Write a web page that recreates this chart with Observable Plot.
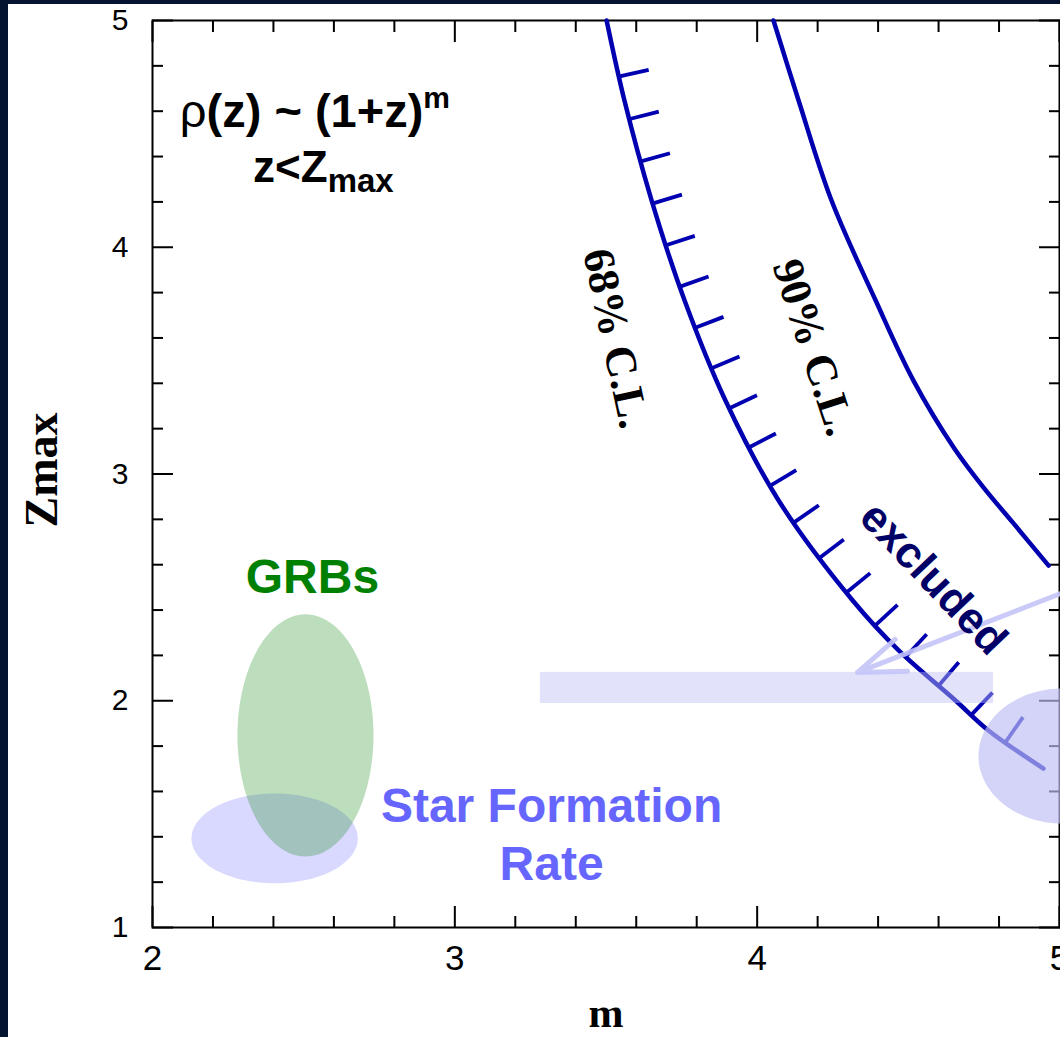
<!DOCTYPE html>
<html>
<head>
<meta charset="utf-8">
<script src="https://cdn.jsdelivr.net/npm/d3@7"></script>
<script src="https://cdn.jsdelivr.net/npm/@observablehq/plot@0.6"></script>
<style>
  html, body { margin: 0; padding: 0; width: 1060px; height: 1037px; overflow: hidden; background: #041430; }
  #panel { position: absolute; left: 8px; top: 4px; width: 1052px; height: 1033px; background: #ffffff; }
  #chart { position: absolute; left: 0; top: 0; }
</style>
</head>
<body>
<div id="panel"></div>
<div id="chart"></div>
<script>
// ---------- data ----------
// 68% C.L. exclusion contour (m, Zmax)
const cl68M = [3.502, 3.561, 3.651, 3.760, 3.895, 4.071, 4.316, 4.468, 4.656, 4.765, 4.947];
const cl68Z = [5.000, 4.647, 4.206, 3.765, 3.324, 2.883, 2.442, 2.222, 2.001, 1.869, 1.701];
// 90% C.L. exclusion contour
const cl90M = [4.054, 4.137, 4.246, 4.392, 4.517, 4.650, 4.749, 4.848, 4.964];
const cl90Z = [5.000, 4.647, 4.206, 3.765, 3.412, 3.117, 2.940, 2.782, 2.596];

// shaded regions: centre (m, z) and half-widths (m, z)
const grbRegion = {m: 2.506, z: 1.847, rm: 0.225, rz: 0.534};
const sfrRegion = {m: 2.404, z: 1.393, rm: 0.275, rz: 0.198};
const fitRegion = {m: 5.010, z: 1.756, rm: 0.278, rz: 0.298};

// horizontal band
const bandM = [3.283, 4.782];
const bandZ = [1.988, 2.125];
// arrow from the "excluded" label
const arrowM = [5.004, 4.332];
const arrowZ = [2.473, 2.125];

// axes
const xMajor = [2, 3, 4, 5];
const xMinor = [2.2, 2.4, 2.6, 2.8, 3.2, 3.4, 3.6, 3.8, 4.2, 4.4, 4.6, 4.8];
const yMajor = [1, 2, 3, 4, 5];
const yMinor = [1.2, 1.4, 1.6, 1.8, 2.2, 2.4, 2.6, 2.8, 3.2, 3.4, 3.6, 3.8, 4.2, 4.4, 4.6, 4.8];

// annotation anchors (data coordinates)
const label68 = {text: "68% C.L.", m: 3.532, z: 3.598};
const label90 = {text: "90% C.L.", m: 4.187, z: 3.558};
const labelExcl = {text: "excluded", m: 4.583, z: 2.539};
const labelGRB = {text: "GRBs", m: 2.529, z: 2.544};
const labelSFR = {text: "Star Formation\nRate", m: 3.320, z: 1.419};
const formulaPos = {m1: 2.539, z1: 4.528, m2: 2.567, z2: 4.286};

// ---------- helpers ----------
const cl68 = cl68M.map((m, i) => ({m, z: cl68Z[i]}));
const cl90 = cl90M.map((m, i) => ({m, z: cl90Z[i]}));
function ellipse(r) {
  return d3.range(0, 360, 3).map(a => ({
    m: r.m + r.rm * Math.cos(a * Math.PI / 180),
    z: r.z + r.rz * Math.sin(a * Math.PI / 180)
  }));
}
const SANS = "Liberation Sans, Arial, Helvetica, sans-serif";
const SERIF = "Liberation Serif, Times New Roman, serif";
const BLUE = "#0000b0";

function getScales(args) {
  for (const a of args) if (a && typeof a.x === "function" && typeof a.y === "function") return a;
  return null;
}

// hatch marks drawn along the 68% contour (toward the excluded side)
function hatchMark(...args) {
  const {x, y} = getScales(args);
  const line = d3.line().curve(d3.curveCatmullRom)(cl68.map(d => [x(d.m), y(d.z)]));
  const tmp = d3.select("body").append("svg").attr("width", 0).attr("height", 0).style("position", "absolute");
  const path = tmp.append("path").attr("d", line).node();
  const total = path.getTotalLength();
  const g = d3.create("svg:g").attr("stroke", BLUE).attr("stroke-width", 3.8).attr("stroke-linecap", "butt");
  for (let s = 58; s < total - 25; s += 43.8) {
    const p = path.getPointAtLength(s);
    const a = path.getPointAtLength(Math.max(0, s - 2));
    const b = path.getPointAtLength(Math.min(total, s + 2));
    let dx = b.x - a.x, dy = b.y - a.y;
    const n = Math.hypot(dx, dy);
    dx /= n; dy /= n;
    const nx = dy, ny = -dx;
    g.append("line").attr("x1", p.x).attr("y1", p.y).attr("x2", p.x + 31 * nx).attr("y2", p.y + 31 * ny);
  }
  tmp.remove();
  return g.node();
}

// the formula annotation with super/subscripts
function formulaMark(...args) {
  const {x, y} = getScales(args);
  const g = d3.create("svg:g")
    .attr("font-family", SANS).attr("font-weight", "bold")
    .attr("fill", "#000").attr("text-anchor", "middle");
  const t1 = g.append("text").attr("x", x(formulaPos.m1)).attr("y", y(formulaPos.z1)).attr("font-size", 47);
  t1.append("tspan").attr("font-weight", "normal").text("ρ");
  t1.append("tspan").text("(z) ~ (1+z)");
  t1.append("tspan").attr("font-size", 30).attr("dy", -19).text("m");
  const t2 = g.append("text").attr("x", x(formulaPos.m2)).attr("y", y(formulaPos.z2)).attr("font-size", 44);
  t2.append("tspan").text("z<Z");
  t2.append("tspan").attr("font-size", 33).attr("dy", 10).text("max");
  return g.node();
}

const noText = () => "";

const chart = Plot.plot({
  width: 1060,
  height: 1037,
  marginLeft: 152,
  marginRight: 1,
  marginTop: 20,
  marginBottom: 110,
  x: {domain: [2, 5], axis: null},
  y: {domain: [1, 5], axis: null},
  style: {background: "transparent", fontFamily: SANS, color: "#000", overflow: "visible"},
  marks: [
    // source regions
    Plot.line(ellipse(sfrRegion), {x: "m", y: "z", fill: "rgba(102,102,255,0.25)", stroke: "none", curve: "linear-closed"}),
    Plot.line(ellipse(grbRegion), {x: "m", y: "z", fill: "rgba(0,128,0,0.26)", stroke: "none", curve: "linear-closed"}),

    // frame and inward ticks on all four sides
    Plot.frame({stroke: "#000", strokeWidth: 2}),
    Plot.axisX(xMajor, {anchor: "bottom", tickSize: -21, strokeWidth: 2, tickFormat: noText, label: null}),
    Plot.axisX(xMinor, {anchor: "bottom", tickSize: -11, strokeWidth: 2, tickFormat: noText, label: null}),
    Plot.axisX(xMajor, {anchor: "top", tickSize: -21, strokeWidth: 2, tickFormat: noText, label: null}),
    Plot.axisX(xMinor, {anchor: "top", tickSize: -11, strokeWidth: 2, tickFormat: noText, label: null}),
    Plot.axisY(yMajor, {anchor: "left", tickSize: -21, strokeWidth: 2, tickFormat: noText, label: null}),
    Plot.axisY(yMinor, {anchor: "left", tickSize: -11, strokeWidth: 2, tickFormat: noText, label: null}),
    Plot.axisY(yMajor, {anchor: "right", tickSize: -21, strokeWidth: 2, tickFormat: noText, label: null}),
    Plot.axisY(yMinor, {anchor: "right", tickSize: -11, strokeWidth: 2, tickFormat: noText, label: null}),
    // tick labels
    Plot.axisX(xMajor, {anchor: "bottom", tickSize: 0, tickPadding: 18, fontSize: 35, label: null, tickFormat: d3.format("d")}),
    Plot.axisY(yMajor, {anchor: "left", tickSize: 0, tickPadding: 24, fontSize: 30, label: null, tickFormat: d3.format("d")}),

    // contours
    Plot.line(cl68, {x: "m", y: "z", stroke: BLUE, strokeWidth: 4.5, curve: "catmull-rom"}),
    Plot.line(cl90, {x: "m", y: "z", stroke: BLUE, strokeWidth: 4.5, curve: "catmull-rom"}),
    hatchMark,

    // band, arrow and fitted region overlays
    Plot.rect([0], {x1: () => bandM[0], x2: () => bandM[1], y1: () => bandZ[0], y2: () => bandZ[1], fill: "rgba(191,191,245,0.45)"}),
    Plot.arrow([0], {x1: () => arrowM[0], y1: () => arrowZ[0], x2: () => arrowM[1], y2: () => arrowZ[1],
      stroke: "rgba(196,196,248,0.9)", strokeWidth: 5, headLength: 15, headAngle: 40}),
    Plot.line(ellipse(fitRegion), {x: "m", y: "z", fill: "rgba(191,191,245,0.67)", stroke: "none", curve: "linear-closed"}),

    // annotations
    Plot.text([label68], {x: "m", y: "z", text: "text", rotate: 78, fontSize: 44, fontWeight: "bold", fontFamily: SERIF, fill: "#000"}),
    Plot.text([label90], {x: "m", y: "z", text: "text", rotate: 72, fontSize: 44, fontWeight: "bold", fontFamily: SERIF, fill: "#000"}),
    Plot.text([labelExcl], {x: "m", y: "z", text: "text", rotate: 46.5, fontSize: 44, fontWeight: "bold", fontFamily: SANS, fill: "#000066"}),
    Plot.text([labelGRB], {x: "m", y: "z", text: "text", fontSize: 48, fontWeight: "bold", fontFamily: SANS, fill: "#008000"}),
    Plot.text([labelSFR], {x: "m", y: "z", text: "text", fontSize: 48, lineHeight: 1.2, fontWeight: "bold", fontFamily: SANS, fill: "#6666ff"}),
    formulaMark,

    // axis titles
    Plot.text(["m"], {frameAnchor: "bottom", lineAnchor: "middle", textAnchor: "middle", dy: 86, fontSize: 42, fontWeight: "bold", fontFamily: SERIF, fill: "#000"}),
    Plot.text(["Zmax"], {frameAnchor: "left", lineAnchor: "middle", textAnchor: "middle", dx: -110, dy: -4, rotate: -90, fontSize: 46, fontWeight: "bold", fontFamily: SERIF, fill: "#000"})
  ]
});

document.getElementById("chart").appendChild(chart);
</script>
</body>
</html>
